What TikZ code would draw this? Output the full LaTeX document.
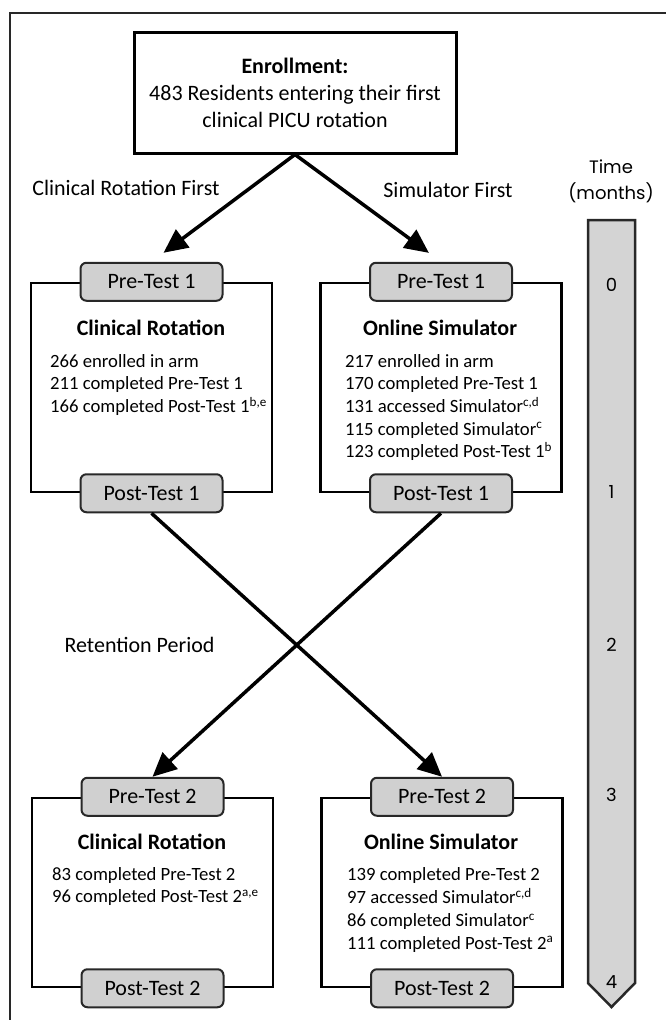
\documentclass[tikz,border=0pt]{standalone}
\usepackage{fontspec}
\setmainfont{Carlito}
\newfontfamily\timefamily{Poppins}
\usetikzlibrary{arrows.meta,positioning}
\definecolor{tabGray}{RGB}{208,208,208}
\definecolor{barGray}{RGB}{212,212,212}
\definecolor{edgeGray}{RGB}{40,40,40}

\begin{document}
\begin{tikzpicture}[x=1pt, y=-1pt,
  bigtext/.style={font=\fontsize{22}{27}\selectfont},
  titletext/.style={font=\fontsize{22}{27}\selectfont\bfseries},
  bodytext/.style={font=\fontsize{18.7}{22.7}\selectfont, align=left, inner sep=0pt, anchor=west},
  timetext/.style={font=\timefamily\fontsize{18}{22}\selectfont},
  armbox/.style={draw, line width=2.5pt, minimum width=241pt, inner sep=0pt},
  testtab/.style={draw=edgeGray, fill=tabGray, line width=2pt, rounded corners=6pt,
    minimum width=142pt, minimum height=38pt, inner sep=0pt, bigtext},
  flow/.style={line width=3.5pt, -{Triangle[length=24pt,width=22pt]}}]
  \useasboundingbox (0,0) rectangle (666,1020);
  % frame
  \draw[line width=1.2pt, edgeGray] (10,1020) -- (10,13) -- (666,13);

  % enrollment
  \node[draw, line width=3pt, minimum width=322pt, minimum height=121pt, align=center, bigtext] (enroll) at (295,92.5)
    {\textbf{Enrollment:}\\483 Residents entering their first\\clinical PICU rotation};
  \node[bigtext] (crfirst) at (126,188) {Clinical Rotation First};
  \node[bigtext] (simfirst) at (448,190) {Simulator First};

  % first period
  \node[armbox, minimum height=209pt] (armL1) at (151.5,387.5) {};
  \node[armbox, minimum height=209pt] (armR1) at (441,387.5) {};
  \node[testtab] (pre1L) at (armL1.north) {Pre-Test 1};
  \node[testtab] (post1L) at (armL1.south) {Post-Test 1};
  \node[testtab] (pre1R) at (armR1.north) {Pre-Test 1};
  \node[testtab] (post1R) at (armR1.south) {Post-Test 1};
  \node[titletext] (titleL1) at (151,328) {Clinical Rotation};
  \node[titletext] (titleR1) at (440,328) {Online Simulator};
  \node[bodytext] (listL1) at (50,385) {266 enrolled in arm\\211 completed Pre-Test 1\\166 completed Post-Test 1\textsuperscript{b,e}};
  \node[bodytext] (listR1) at (345,407.5) {217 enrolled in arm\\170 completed Pre-Test 1\\131 accessed Simulator\textsuperscript{c,d}\\115 completed Simulator\textsuperscript{c}\\123 completed Post-Test 1\textsuperscript{b}};

  \node[bigtext] (retention) at (139.5,645) {Retention Period};

  % second period
  \node[armbox, minimum height=189pt] (armL2) at (152.5,892.5) {};
  \node[armbox, minimum height=189pt] (armR2) at (442,892.5) {};
  \node[testtab] (pre2L) at (armL2.north) {Pre-Test 2};
  \node[testtab] (post2L) at (armL2.south) {Post-Test 2};
  \node[testtab] (pre2R) at (armR2.north) {Pre-Test 2};
  \node[testtab] (post2R) at (armR2.south) {Post-Test 2};
  \node[titletext] (titleL2) at (152,842) {Clinical Rotation};
  \node[titletext] (titleR2) at (441,842) {Online Simulator};
  \node[bodytext] (listL2) at (52,886.5) {83 completed Pre-Test 2\\96 completed Post-Test 2\textsuperscript{a,e}};
  \node[bodytext] (listR2) at (347,910) {139 completed Pre-Test 2\\97 accessed Simulator\textsuperscript{c,d}\\86 completed Simulator\textsuperscript{c}\\111 completed Post-Test 2\textsuperscript{a}};

  % arrows
  \draw[flow, shorten >=15pt] (enroll.south) -- (pre1L.north);
  \draw[flow, shorten >=15pt] (enroll.south) -- (pre1R.north);
  \draw[flow] (post1L.south) -- (pre2R.north);
  \draw[flow] (post1R.south) -- (pre2L.north);

  % time bar
  \node[timetext] (timelbl) at (611,167) {Time};
  \node[timetext] (monthslbl) at (611,193) {(months)};
  \draw[draw=edgeGray, fill=barGray, line width=2.5pt] (588,220) -- (635,220) -- (635,983) -- (611.5,1007) -- (588,983) -- cycle;
  \foreach \m/\ypos in {0/285, 1/492, 2/645, 3/795, 4/982}
    \node[timetext] (month\m) at (611.5,\ypos) {\m};
\end{tikzpicture}
\end{document}
